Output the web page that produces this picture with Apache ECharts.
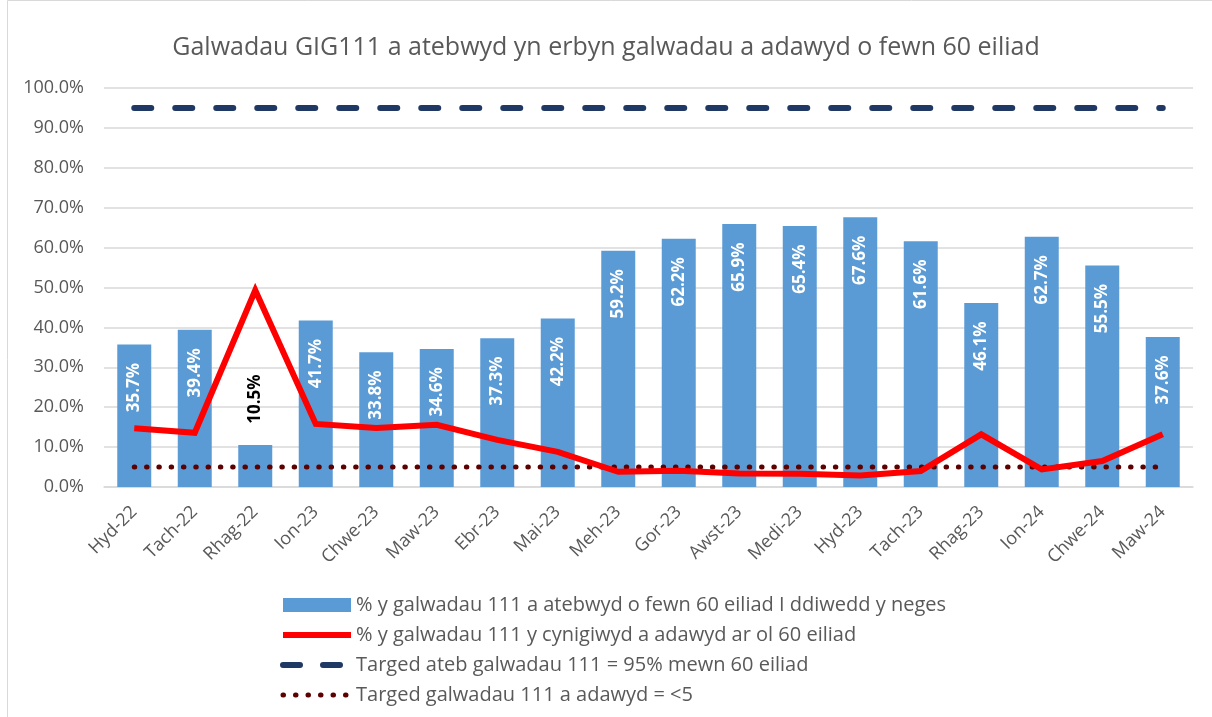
<!DOCTYPE html>
<html>
<head>
<meta charset="utf-8">
<script src="https://cdn.jsdelivr.net/npm/echarts@6/dist/echarts.min.js"></script>
<style>
  html, body { margin: 0; padding: 0; background: #fff; }
  #chart { width: 1212px; height: 717px; }
</style>
</head>
<body>
<div id="chart"></div>
<script>
  // misoedd
  var months = ["Hyd-22", "Tach-22", "Rhag-22", "Ion-23", "Chwe-23", "Maw-23", "Ebr-23", "Mai-23", "Meh-23",
    "Gor-23", "Awst-23", "Medi-23", "Hyd-23", "Tach-23", "Rhag-23", "Ion-24", "Chwe-24", "Maw-24"];
  // % a atebwyd o fewn 60 eiliad (bariau)
  var answered = [35.7, 39.4, 10.5, 41.7, 33.8, 34.6, 37.3, 42.2, 59.2, 62.2, 65.9, 65.4, 67.6, 61.6, 46.1, 62.7, 55.5, 37.6];
  // % a adawyd ar ol 60 eiliad (llinell goch)
  var abandoned = [14.7, 13.6, 49.3, 15.8, 14.8, 15.6, 11.8, 8.8, 3.8, 4.1, 3.4, 3.3, 2.9, 4.0, 13.2, 4.4, 6.5, 13.2];
  // targedau
  var target95 = [95, 95, 95, 95, 95, 95, 95, 95, 95, 95, 95, 95, 95, 95, 95, 95, 95, 95];
  var target5 = [5, 5, 5, 5, 5, 5, 5, 5, 5, 5, 5, 5, 5, 5, 5, 5, 5, 5];
  var yTicks = [0, 10, 20, 30, 40, 50, 60, 70, 80, 90, 100];

  var seriesNames = [
    "% y galwadau 111 a atebwyd o fewn 60 eiliad I ddiwedd y neges",
    "% y galwadau 111 y cynigiwyd a adawyd ar ol 60 eiliad",
    "Targed ateb galwadau 111 = 95% mewn 60 eiliad",
    "Targed galwadau 111 a adawyd = <5"
  ];

  var font = "Open Sans";
  var grey = "#595959";

  var redLine = { color: "#ff0000", width: 6, join: "miter" };
  var navyDash = { color: "#1f3864", width: 6, type: [17, 24], cap: "round" };
  var dotLine = { color: "#5c0000", width: 5, type: [0.5, 11.8], cap: "round" };

  // label y tu allan i'r bar pan mae'r bar yn rhy fyr
  var barData = answered.map(function (v) {
    if (v < 20) {
      return {
        value: v,
        label: { position: ["50%", -46], color: "#000" }
      };
    }
    return v;
  });

  var option = {
    animation: false,
    textStyle: { fontFamily: font },
    title: {
      text: "Galwadau GIG111 a atebwyd yn erbyn galwadau a adawyd o fewn 60 eiliad",
      left: "center",
      top: 30,
      textStyle: { fontSize: 25, fontWeight: "normal", color: grey, fontFamily: font }
    },
    graphic: [{
      type: "rect",
      shape: { x: 7.5, y: 0.5, width: 1220, height: 730 },
      style: { fill: "none", stroke: "#d9d9d9", lineWidth: 1 },
      silent: true
    }],
    grid: { left: 104, right: 19, top: 88, bottom: 230 },
    legend: {
      orient: "vertical",
      left: 280,
      top: 595,
      height: 200,
      padding: 0,
      itemWidth: 68,
      itemHeight: 14,
      itemGap: 10,
      textStyle: { fontSize: 20, color: grey, fontFamily: font },
      data: [
        { name: seriesNames[0], icon: "rect" },
        { name: seriesNames[1], itemStyle: { opacity: 0 }, lineStyle: redLine },
        { name: seriesNames[2], itemStyle: { opacity: 0 }, lineStyle: { color: "#1f3864", width: 6, type: [17, 23], cap: "round" } },
        { name: seriesNames[3], itemStyle: { opacity: 0 }, lineStyle: { color: "#5c0000", width: 5, type: [0.5, 12], cap: "round" } }
      ]
    },
    xAxis: {
      type: "category",
      data: months,
      axisLine: { lineStyle: { color: "#d9d9d9", width: 1.5 } },
      axisTick: { show: false },
      axisLabel: { rotate: 45, color: grey, fontSize: 18, margin: 22, interval: 0 }
    },
    yAxis: {
      type: "value",
      min: yTicks[0],
      max: yTicks[yTicks.length - 1],
      interval: 10,
      axisLine: { show: false },
      axisTick: { show: false },
      splitLine: { lineStyle: { color: "#d9d9d9", width: 1.5 } },
      axisLabel: {
        color: grey,
        fontSize: 18,
        margin: 20,
        formatter: function (v) { return v.toFixed(1) + "%"; }
      }
    },
    series: [
      {
        name: seriesNames[0],
        type: "bar",
        data: barData,
        barWidth: 34,
        itemStyle: { color: "#5b9bd5" },
        label: {
          show: true,
          position: ["50%", 43],
          rotate: 90,
          align: "center",
          verticalAlign: "middle",
          color: "#fff",
          fontWeight: "bold",
          fontSize: 17,
          formatter: function (p) { return p.value.toFixed(1) + "%"; }
        },
        z: 1
      },
      {
        name: seriesNames[1],
        type: "line",
        data: abandoned,
        symbol: "none",
        lineStyle: redLine,
        itemStyle: { color: "#ff0000" },
        z: 4
      },
      {
        name: seriesNames[2],
        type: "line",
        data: target95,
        symbol: "none",
        lineStyle: navyDash,
        itemStyle: { color: "#1f3864" },
        z: 3
      },
      {
        name: seriesNames[3],
        type: "line",
        data: target5,
        symbol: "none",
        lineStyle: dotLine,
        itemStyle: { color: "#5c0000" },
        z: 3
      }
    ]
  };

  var chart = echarts.init(document.getElementById("chart"));
  chart.setOption(option);
  window.addEventListener("resize", function () {
    chart.resize();
  });
</script>
</body>
</html>
